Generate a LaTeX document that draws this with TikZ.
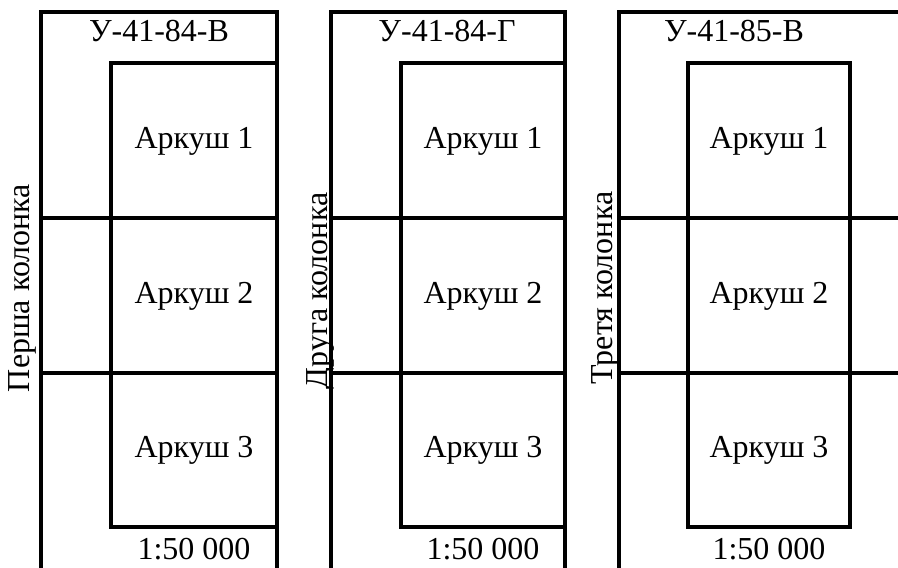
\documentclass[tikz,border=0pt]{standalone}
\usepackage{fontspec}
\setmainfont{Liberation Serif}
\begin{document}
\begin{tikzpicture}[x=1pt,y=-1pt,
  frame/.style={line width=3.4pt,line join=miter,line cap=butt},
  lbl/.style={inner sep=0pt,font=\fontsize{32}{38}\selectfont},
  vlbl/.style={lbl,rotate=90,anchor=base}]
\useasboundingbox (0,0) rectangle (898,568);
% panel 1
\draw[frame] (41,568) -- (41,12) -- (277,12) -- (277,568);
\draw[frame] (277,63) -- (111,63) -- (111,527) -- (277,527);
\draw[frame] (41,218) -- (277,218);
\draw[frame] (41,373) -- (277,373);
% panel 2
\draw[frame] (331,568) -- (331,12) -- (565,12) -- (565,568);
\draw[frame] (565,63) -- (401,63) -- (401,527) -- (565,527);
\draw[frame] (331,218) -- (565,218);
\draw[frame] (331,373) -- (565,373);
% panel 3
\draw[frame] (619,568) -- (619,12) -- (898,12);
\draw[frame] (688,63) rectangle (850,527);
\draw[frame] (619,218) -- (898,218);
\draw[frame] (619,373) -- (898,373);
% headers
\node[lbl,anchor=base] (h1) at (159,41) {У-41-84-В};
\node[lbl,anchor=base] (h2) at (447,41) {У-41-84-Г};
\node[lbl,anchor=base] (h3) at (734,41) {У-41-85-В};
% sheets
\foreach \c/\n in {194/a,483/b,769/c}{
  \node[lbl] (\n1) at (\c,141) {Аркуш 1};
  \node[lbl] (\n2) at (\c,296) {Аркуш 2};
  \node[lbl] (\n3) at (\c,450) {Аркуш 3};
  \node[lbl,anchor=base] (\n s) at (\c,559) {1:50 000};
}
% column labels
\node[vlbl] (c1) at (30,288) {Перша колонка};
\node[vlbl] (c2) at (327,291) {Друга колонка};
\node[vlbl] (c3) at (612,288) {Третя колонка};
\end{tikzpicture}
\end{document}
